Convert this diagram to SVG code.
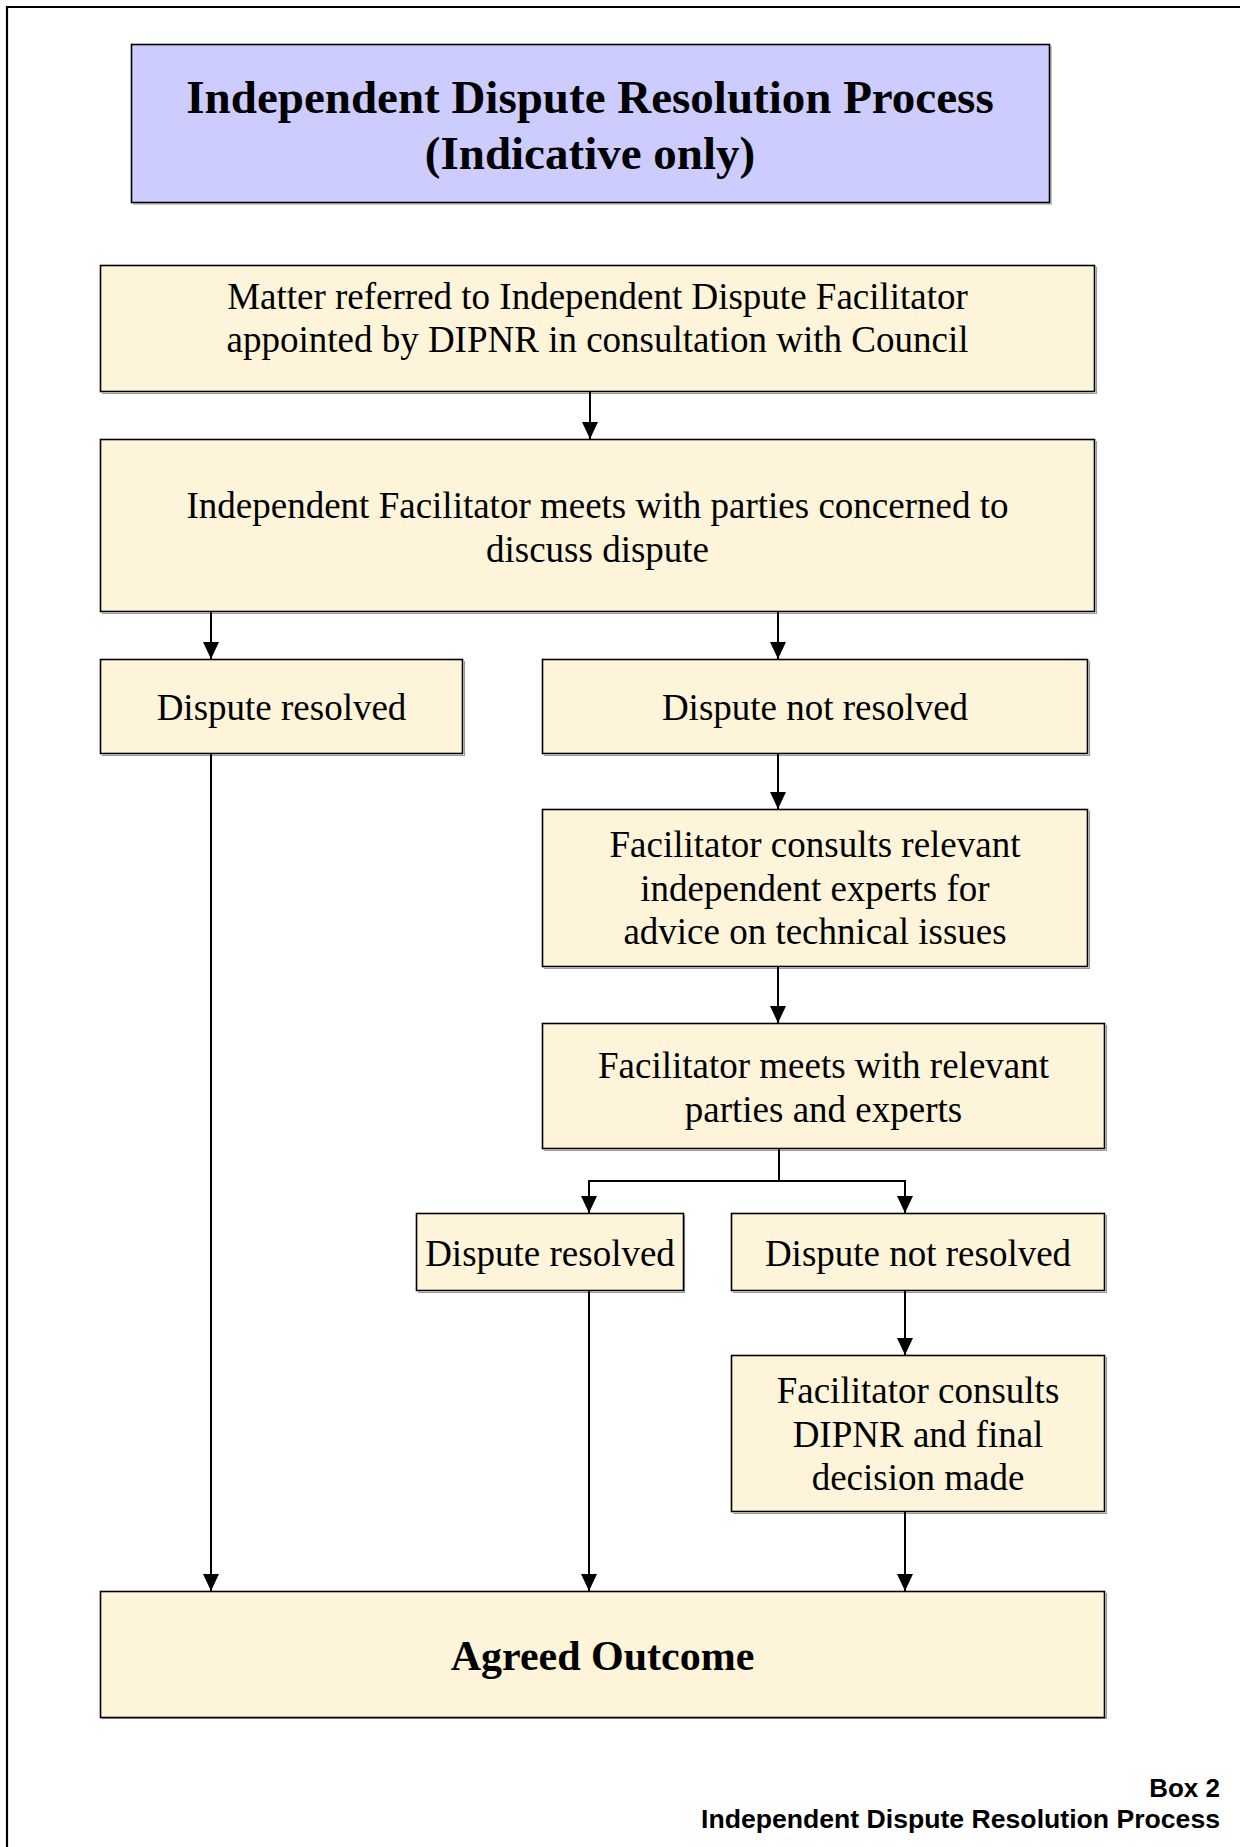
<svg xmlns="http://www.w3.org/2000/svg" width="1240" height="1847" viewBox="0 0 1240 1847">
<style>
.box{fill:#FDF4DA;stroke:#000;stroke-width:1.6}
.title{fill:#CCCCFF;stroke:#000;stroke-width:1.6}
.sh{fill:none;stroke:#9a9a9a;stroke-width:1.2}
.t{font-family:"Liberation Serif","Times New Roman",serif;font-size:37px;fill:#000;text-anchor:middle}
.tb{font-family:"Liberation Serif","Times New Roman",serif;font-weight:bold;fill:#000;text-anchor:middle}
.cap{font-family:"Liberation Sans",Arial,sans-serif;font-weight:bold;font-size:26px;fill:#000;text-anchor:end}
.c{fill:none;stroke:#000;stroke-width:2}
</style>
<defs>
<marker id="ah" markerUnits="userSpaceOnUse" markerWidth="17" markerHeight="16" viewBox="0 0 17 16" refX="17" refY="8" orient="auto">
<path d="M0,0 L17,8 L0,16 z" fill="#000"/>
</marker>
</defs>
<rect width="1240" height="1847" fill="#fff"/>
<g id="frame">
<line x1="7" y1="7" x2="1240" y2="7" stroke="#000" stroke-width="2.2"/>
<line x1="7" y1="6" x2="7" y2="1847" stroke="#000" stroke-width="2.2"/>
</g>
<g id="n-title">
<path class="sh" d="M133,204 H1051 V46"/>
<rect class="title" x="131.5" y="44.5" width="918" height="158"/>
<text class="tb" font-size="47" x="590" y="113">Independent Dispute Resolution Process</text>
<text class="tb" font-size="47" x="590" y="169">(Indicative only)</text>
</g>
<g id="n-matter">
<path class="sh" d="M102,393.5 H1096.5 V267"/>
<rect class="box" x="100.5" y="265.5" width="994" height="126"/>
<text class="t" x="597.5" y="309">Matter referred to Independent Dispute Facilitator</text>
<text class="t" x="597.5" y="352">appointed by DIPNR in consultation with Council</text>
</g>
<g id="n-meets">
<path class="sh" d="M102,613.5 H1096.5 V441"/>
<rect class="box" x="100.5" y="439.5" width="994" height="172"/>
<text class="t" x="597.5" y="518">Independent Facilitator meets with parties concerned to</text>
<text class="t" x="597.5" y="562">discuss dispute</text>
</g>
<g id="n-resolved1">
<path class="sh" d="M102,755.5 H464.5 V661"/>
<rect class="box" x="100.5" y="659.5" width="362" height="94"/>
<text class="t" x="281.5" y="720">Dispute resolved</text>
</g>
<g id="n-notresolved1">
<path class="sh" d="M544,755.5 H1089.5 V661"/>
<rect class="box" x="542.5" y="659.5" width="545" height="94"/>
<text class="t" x="815" y="720">Dispute not resolved</text>
</g>
<g id="n-consults">
<path class="sh" d="M544,968.5 H1089.5 V811"/>
<rect class="box" x="542.5" y="809.5" width="545" height="157"/>
<text class="t" x="815" y="857">Facilitator consults relevant</text>
<text class="t" x="815" y="901">independent experts for</text>
<text class="t" x="815" y="944">advice on technical issues</text>
</g>
<g id="n-meets2">
<path class="sh" d="M544,1150.5 H1106.5 V1025"/>
<rect class="box" x="542.5" y="1023.5" width="562" height="125"/>
<text class="t" x="823.5" y="1078">Facilitator meets with relevant</text>
<text class="t" x="823.5" y="1122">parties and experts</text>
</g>
<g id="n-resolved2">
<path class="sh" d="M418,1292.5 H684.5 V1215"/>
<rect class="box" x="416.5" y="1213.5" width="267" height="77"/>
<text class="t" x="550" y="1266">Dispute resolved</text>
</g>
<g id="n-notresolved2">
<path class="sh" d="M733,1292.5 H1106.5 V1215"/>
<rect class="box" x="731.5" y="1213.5" width="373" height="77"/>
<text class="t" x="918" y="1266">Dispute not resolved</text>
</g>
<g id="n-dipnr">
<path class="sh" d="M733,1513.5 H1106.5 V1357"/>
<rect class="box" x="731.5" y="1355.5" width="373" height="156"/>
<text class="t" x="918" y="1403">Facilitator consults</text>
<text class="t" x="918" y="1447">DIPNR and final</text>
<text class="t" x="918" y="1490">decision made</text>
</g>
<g id="n-outcome">
<path class="sh" d="M102,1718.5 H1106.5 V1593"/>
<rect class="box" x="100.5" y="1591.5" width="1004" height="126"/>
<text class="tb" font-size="42" x="602.5" y="1670">Agreed Outcome</text>
</g>
<g id="connectors">
<line class="c" x1="590" y1="392" x2="590" y2="439" marker-end="url(#ah)"/>
<line class="c" x1="211" y1="612" x2="211" y2="659" marker-end="url(#ah)"/>
<line class="c" x1="778" y1="612" x2="778" y2="659" marker-end="url(#ah)"/>
<line class="c" x1="211" y1="754" x2="211" y2="1591" marker-end="url(#ah)"/>
<line class="c" x1="778" y1="754" x2="778" y2="809" marker-end="url(#ah)"/>
<line class="c" x1="778" y1="967" x2="778" y2="1023" marker-end="url(#ah)"/>
<polyline class="c" points="779,1149 779,1181"/>
<polyline class="c" points="589,1195 589,1181 905,1181 905,1195"/>
<line class="c" x1="589" y1="1190" x2="589" y2="1213" marker-end="url(#ah)"/>
<line class="c" x1="905" y1="1190" x2="905" y2="1213" marker-end="url(#ah)"/>
<line class="c" x1="589" y1="1291" x2="589" y2="1591" marker-end="url(#ah)"/>
<line class="c" x1="905" y1="1291" x2="905" y2="1355" marker-end="url(#ah)"/>
<line class="c" x1="905" y1="1512" x2="905" y2="1591" marker-end="url(#ah)"/>
</g>
<g id="caption">
<text class="cap" x="1220" y="1797">Box 2</text>
<text class="cap" x="1220" y="1828" textLength="519" lengthAdjust="spacingAndGlyphs">Independent Dispute Resolution Process</text>
</g>
</svg>
